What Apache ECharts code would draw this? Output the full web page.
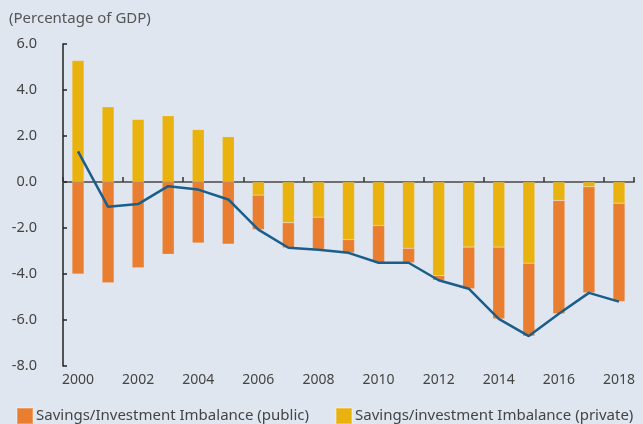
<!DOCTYPE html>
<html><head><meta charset="utf-8">
<script src="https://cdn.jsdelivr.net/npm/echarts@6/dist/echarts.min.js"></script>
<style>html,body{margin:0;padding:0;background:#DFE6F0}#c{width:643px;height:424px}</style>
</head><body><div id="c"></div>
<script>
const years = ['2000','2001','2002','2003','2004','2005','2006','2007','2008','2009','2010','2011','2012','2013','2014','2015','2016','2017','2018'];
const publicImb = [-4.00,-4.38,-3.73,-3.14,-2.65,-2.70,-1.50,-1.09,-1.40,-0.58,-1.60,-0.63,-0.20,-1.81,-3.12,-3.17,-4.93,-4.61,-4.28];
const privateImb = [5.28,3.27,2.72,2.88,2.28,1.97,-0.57,-1.77,-1.53,-2.50,-1.89,-2.88,-4.07,-2.83,-2.83,-3.53,-0.80,-0.21,-0.92];
const totalLine = [1.33,-1.08,-0.96,-0.18,-0.33,-0.76,-2.07,-2.86,-2.95,-3.08,-3.51,-3.51,-4.27,-4.64,-5.95,-6.70,-5.73,-4.82,-5.20];
const yTicks = {min:-8, max:6, interval:2};
const nPublic = 'Savings/Investment Imbalance (public)';
const nPrivate = 'Savings/investment Imbalance (private)';

const FONT = 'Noto Sans';
const chart = echarts.init(document.getElementById('c'), null, {renderer:'canvas'});
chart.setOption({
  backgroundColor:'#DFE6F0',
  animation:false,
  textStyle:{fontFamily:FONT},
  title:{text:'(Percentage of GDP)', left:4, top:6, textStyle:{fontFamily:FONT, fontSize:15, fontWeight:'normal', color:'#555'}},
  grid:{left:63, right:9, top:44, bottom:58},
  legend:[
    {data:[nPublic], left:11, top:402, itemWidth:16, itemHeight:16, icon:'rect', itemGap:4,
     textStyle:{fontFamily:FONT, fontSize:15, color:'#444', padding:[0,0,0,-2]}},
    {data:[nPrivate], left:330, top:402, itemWidth:16, itemHeight:16, icon:'rect',
     textStyle:{fontFamily:FONT, fontSize:15, color:'#444', padding:[0,0,0,-2]}}
  ],
  xAxis:[
    {type:'category', data:years, position:'bottom', axisLine:{show:false, onZero:false}, axisTick:{show:false},
     axisLabel:{interval:1, color:'#444', fontSize:14, margin:7, fontFamily:FONT}},
    {type:'category', data:years, position:'bottom', axisLine:{show:true, onZero:true, lineStyle:{color:'#6e6e6e', width:2}},
     axisTick:{show:true, inside:true, length:5, interval:1, lineStyle:{color:'#333', width:1.5}}, axisLabel:{show:false}}
  ],
  yAxis:{type:'value', min:yTicks.min, max:yTicks.max, interval:yTicks.interval,
    axisLine:{show:true, lineStyle:{color:'#222', width:1.5}},
    axisTick:{show:true, inside:true, length:4, lineStyle:{color:'#222', width:1.5}},
    splitLine:{show:false},
    axisLabel:{color:'#444', fontSize:14.5, margin:26, formatter:v=>v.toFixed(1), fontFamily:FONT}},
  series:[
    {name:nPrivate, type:'bar', stack:'s', data:privateImb, barWidth:12, itemStyle:{color:'#EAB20F', borderColor:'rgba(255,255,255,0.25)', borderWidth:0.5}},
    {name:nPublic, type:'bar', stack:'s', data:publicImb, barWidth:12, itemStyle:{color:'#E97E31', borderColor:'rgba(255,255,255,0.25)', borderWidth:0.5}},
    {name:'Total', type:'line', data:totalLine, symbol:'none', z:5, lineStyle:{color:'#1B5E8A', width:2.5}}
  ]
});
</script></body></html>
